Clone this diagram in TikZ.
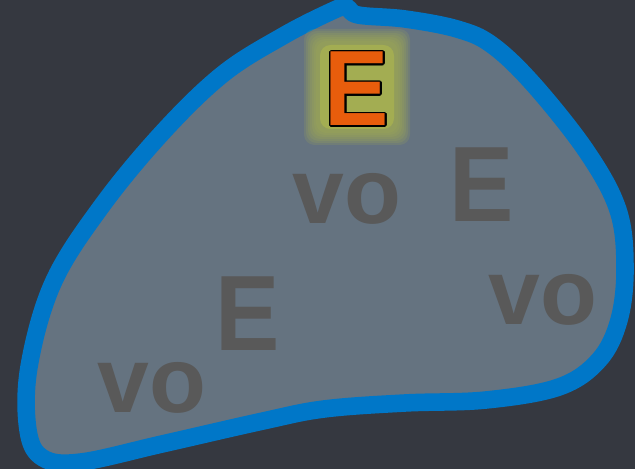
\documentclass[tikz,border=0pt]{standalone}
\usepackage{fontspec}
\setmainfont{Liberation Sans}
\usepackage[copies]{contour}
\contourlength{0.8pt}
\usetikzlibrary{positioning}

\definecolor{bgdark}{HTML}{353840}
\definecolor{blobfill}{HTML}{657380}
\definecolor{blobline}{HTML}{0077C8}
\definecolor{lettergray}{HTML}{595959}
\definecolor{hotorange}{HTML}{E85D0C}
\definecolor{glowyellow}{HTML}{A3AD52}

\newcommand{\capE}{\scalebox{0.9}[1]{E}}

\begin{document}
\begin{tikzpicture}[
    x=0.02cm, y=-0.02cm,
    blob/.style={draw=blobline, fill=blobfill, line width=10, line join=round},
    letter/.style={inner sep=0pt, anchor=base, text=lettergray, font=\fontsize{61}{61}\selectfont\bfseries},
    small/.style={letter, font=\fontsize{53}{53}\selectfont\bfseries},
    hot/.style={inner sep=0pt, anchor=base, font=\fontsize{61}{61}\selectfont\bfseries},
    glow/.style={fill=glowyellow, rounded corners=6}
]
\useasboundingbox (0,0) rectangle (635,469);
\fill[bgdark] (0,0) rectangle (635,469);

% Region
\draw[blob] plot[smooth cycle, tension=0.6] coordinates {
    (330,12) (346,7) (358,15) (405,19) (457,29) (492,45) (534,85)
    (587,152) (618,210) (625,267) (619,320) (599,360) (559,387)
    (486,400) (405,403) (324,409) (263,421) (162,444) (81,462)
    (43,458) (28,430) (29,367) (53,283) (101,207) (162,133)
    (223,74) (283,36)
};

% Glow round the marked letter
\foreach \r in {14,12,...,2}
    \fill[glow, opacity=0.18] (318-\r,43-\r) rectangle (396+\r,131+\r);
\fill[glow] (320,45) rectangle (394,129);

% Letters
\node[hot] (E1) at (357,126) {\contour{black}{\textcolor{hotorange}{\capE}}};
\node[small] (vo1) at (347,224) {vo};
\node[letter] (E2) at (482,222) {\capE};
\node[letter] (E3) at (248,350) {\capE};
\node[small] (vo2) at (543,324) {vo};
\node[small] (vo3) at (152,412) {vo};

\end{tikzpicture}
\end{document}
